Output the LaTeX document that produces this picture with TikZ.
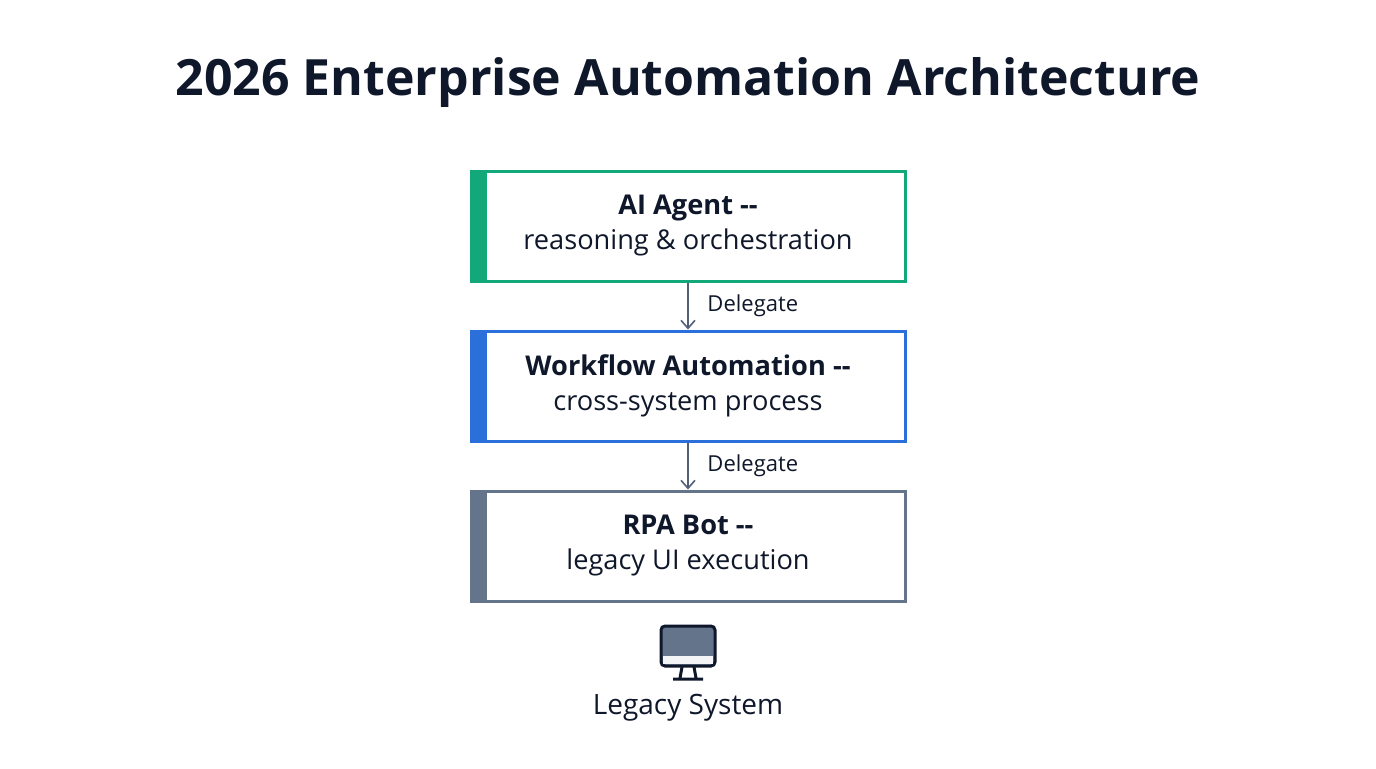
\documentclass[tikz,border=0pt]{standalone}
\usepackage{fontspec}
\setmainfont{Open Sans}
\usetikzlibrary{positioning,arrows.meta}
\definecolor{ink}{HTML}{0F172A}
\definecolor{agentc}{HTML}{12A87A}
\definecolor{flowc}{HTML}{2B6FDB}
\definecolor{botc}{HTML}{64748B}
\tikzset{
  layer/.style={draw=#1, line width=1.5pt, fill=white, minimum width=217pt, minimum height=55pt,
    align=center, text=ink, font=\fontsize{13.6}{17.5}\selectfont,
    path picture={\fill[#1] (path picture bounding box.north west) rectangle ([xshift=8pt]path picture bounding box.south west);}},
  delegate/.style={-{Straight Barb[length=4pt,width=7pt]}, draw=botc!80!ink, line width=0.8pt},
  lbl/.style={font=\fontsize{11}{13}\selectfont, text=ink, right}
}
\begin{document}
\begin{tikzpicture}[x=0.5pt,y=-0.5pt]
  \useasboundingbox (0,0) rectangle (1376,768);
  \node[font=\fontsize{25}{30}\selectfont\bfseries, text=ink] (title) at (688,83) {2026 Enterprise Automation Architecture};
  \node[layer=agentc] (agent) at (688,226) {\textbf{AI Agent -{}-}\\reasoning \& orchestration};
  \node[layer=flowc] (flow) at (688,386) {\textbf{Workflow Automation -{}-}\\cross-system process};
  \node[layer=botc] (bot) at (688,546) {\textbf{RPA Bot -{}-}\\legacy UI execution};
  \draw[delegate] (agent) -- node[lbl, xshift=6pt] {Delegate} (flow);
  \draw[delegate] (flow) -- node[lbl, xshift=6pt] {Delegate} (bot);
  % monitor icon
  \draw[ink, line width=1.5pt, fill=botc, rounded corners=2pt] (661,626) rectangle (715,666);
  \fill[white!92!botc] (663,656) rectangle (713,664);
  \draw[ink, line width=1.5pt] (682,667) -- (680,678) (694,667) -- (696,678) (673,679) -- (703,679);
  \node[font=\fontsize{14}{17}\selectfont, text=ink] (legacy) at (688,708) {Legacy System};
\end{tikzpicture}
\end{document}
